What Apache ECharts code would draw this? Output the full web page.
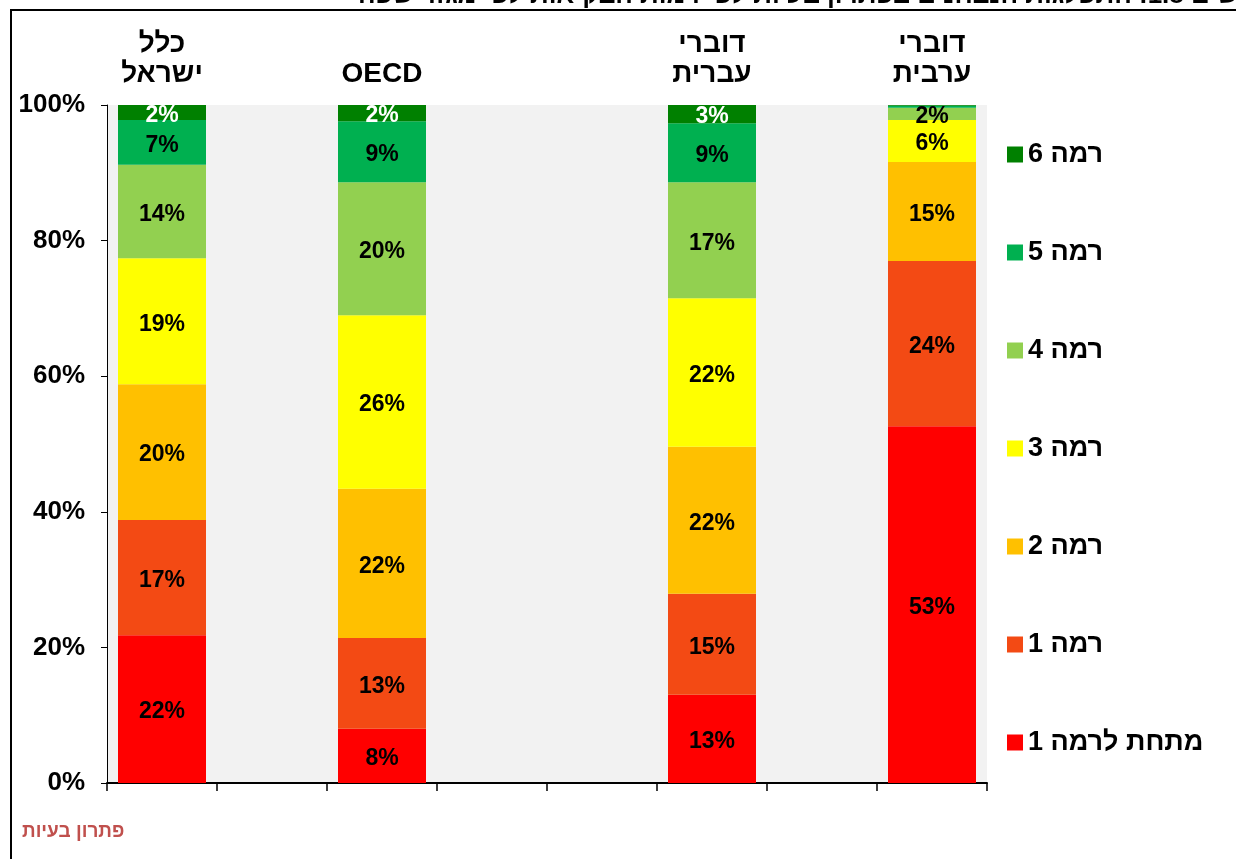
<!DOCTYPE html>
<html><head><meta charset="utf-8">
<script src="https://cdn.jsdelivr.net/npm/echarts@6/dist/echarts.min.js"></script>
<style>html,body{margin:0;padding:0;background:#fff}#c{width:1236px;height:859px}</style>
</head><body><div id="c"></div>
<script>
const categories = ['כלל\nישראל', '', 'OECD', '', '', 'דוברי\nעברית', '', 'דוברי\nערבית'];
const seriesNames = ['מתחת לרמה 1', 'רמה 1', 'רמה 2', 'רמה 3', 'רמה 4', 'רמה 5', 'רמה 6'];
const below1 = [21.8, null, 8.0, null, null, 13.0, null, 52.6];
const level1 = [17.0, null, 13.4, null, null, 14.9, null, 24.4];
const level2 = [20.0, null, 22.0, null, null, 21.7, null, 14.6];
const level3 = [18.6, null, 25.6, null, null, 21.9, null, 6.2];
const level4 = [13.8, null, 19.6, null, null, 17.1, null, 1.8];
const level5 = [6.6, null, 9.0, null, null, 8.7, null, 0.3];
const level6 = [2.2, null, 2.4, null, null, 2.7, null, 0.1];
const yTicks = [0, 20, 40, 60, 80, 100];
const titleText = 'תרשים 1.8: התפלגות הנבחנים בפתרון בעיות לפי רמות הבקיאות לפי מגזר שפה';
const footerText = 'פתרון בעיות';

const values = [below1, level1, level2, level3, level4, level5, level6];
const colors = ['#ff0000', '#f34a14', '#ffc000', '#ffff00', '#92d050', '#00b050', '#008000'];
const labelColors = ['#000', '#000', '#000', '#000', '#000', '#000', '#fff'];
const FONT = '"Liberation Sans", Arial, "DejaVu Sans", sans-serif';

const chart = echarts.init(document.getElementById('c'), null, {renderer: 'canvas'});
chart.setOption({
  animation: false,
  textStyle: {fontFamily: FONT},
  grid: {left: 107, right: 249, top: 105, bottom: 76, show: true, backgroundColor: '#f2f2f2', borderWidth: 0},
  legend: {
    orient: 'vertical', left: 1007, top: 141, padding: 0,
    itemWidth: 16, itemHeight: 16, itemGap: 71,
    icon: 'rect',
    data: seriesNames.slice().reverse(),
    textStyle: {fontFamily: FONT, fontSize: 27, fontWeight: 'bold', color: '#000', lineHeight: 27}
  },
  xAxis: [{
    type: 'category', data: categories, position: 'bottom',
    axisLine: {lineStyle: {color: '#000', width: 2}},
    axisTick: {show: true, length: 8, lineStyle: {color: '#000', width: 1.5}},
    axisLabel: {show: false}
  }, {
    type: 'category', data: categories, position: 'top',
    axisLine: {show: false}, axisTick: {show: false},
    axisLabel: {show: true, interval: 0, margin: 16, fontFamily: FONT, fontSize: 28, fontWeight: 'bold', color: '#000', lineHeight: 30}
  }],
  yAxis: {
    type: 'value', min: 0, max: 100, interval: 20,
    splitLine: {show: false},
    axisLine: {show: true, lineStyle: {color: '#000', width: 1}},
    axisTick: {show: true, length: 6, lineStyle: {color: '#000'}},
    axisLabel: {formatter: v => (yTicks.includes(v) ? v + '%' : ''), margin: 22, fontFamily: FONT, fontSize: 26, fontWeight: 'bold', color: '#000'}
  },
  series: values.map((arr, i) => ({
    name: seriesNames[i], type: 'bar', stack: 'total', xAxisIndex: 0,
    barWidth: 88, data: arr,
    itemStyle: {color: colors[i]},
    label: {
      show: true, position: 'inside', offset: [0, 3],
      formatter: p => (p.value == null || p.value < 1) ? '' : Math.round(p.value) + '%',
      fontFamily: FONT, fontSize: 23, fontWeight: 'bold', color: labelColors[i]
    }
  })),
  graphic: [
    {type: 'rect', shape: {x: 11, y: 10, width: 1240, height: 900}, style: {fill: 'none', stroke: '#000', lineWidth: 2}, silent: true},
    {type: 'text', left: 22, top: 822, style: {text: footerText, fontFamily: FONT, fontSize: 19, fontWeight: 'bold', fill: '#c0504d'}},
    {type: 'text', x: 358, y: 9, style: {text: titleText, fontFamily: FONT, fontSize: 26, fontWeight: 'bold', fill: '#000', textAlign: 'left', textVerticalAlign: 'bottom'}}
  ]
});
</script></body></html>
